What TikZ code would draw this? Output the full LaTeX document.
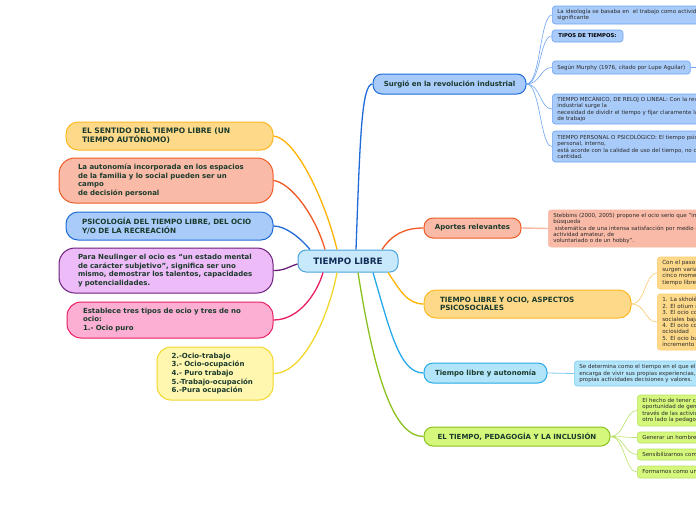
\documentclass[tikz,border=0pt]{standalone}
\usepackage{fontspec}
\setmainfont{DejaVu Sans}
\definecolor{txtgreen}{HTML}{1B3A2C}
\definecolor{txtnavy}{HTML}{132C55}
\definecolor{txtdark}{HTML}{2A2A2A}
\definecolor{cfill}{HTML}{C7E9FB}
\definecolor{cline}{HTML}{4FA3DC}
\definecolor{yfill}{HTML}{FED98A}
\definecolor{yline}{HTML}{FDB923}
\definecolor{ycon}{HTML}{FFB300}
\definecolor{sfill}{HTML}{F9BBA7}
\definecolor{sline}{HTML}{F15A24}
\definecolor{bfill}{HTML}{A8CBFA}
\definecolor{bline}{HTML}{1F6CD9}
\definecolor{lfill}{HTML}{EDBBF7}
\definecolor{lline}{HTML}{6B1E7C}
\definecolor{pfill}{HTML}{FCAFD3}
\definecolor{pline}{HTML}{E91E63}
\definecolor{lyfill}{HTML}{FFF7B0}
\definecolor{lyline}{HTML}{F3D72A}
\definecolor{dfill}{HTML}{B2E4FA}
\definecolor{dline}{HTML}{26A9E8}
\definecolor{gfill}{HTML}{D4F77C}
\definecolor{gline}{HTML}{8BC11F}
\definecolor{subb}{HTML}{6FA5F2}
\definecolor{subs}{HTML}{F8B8A2}
\definecolor{suby}{HTML}{FCCB6E}
\definecolor{subd}{HTML}{7FCDF2}
\definecolor{subg}{HTML}{B9E26A}
\tikzset{
  centernode/.style={draw=cline, fill=cfill, line width=1pt, rounded corners=8pt,
    minimum width=100pt, minimum height=22pt, inner sep=0pt,
    font=\bfseries\fontsize{8.8}{10}\selectfont, text=txtnavy},
  leftnode/.style={line width=1pt, align=left, inner ysep=0pt, text=txtgreen,
    font=\bfseries\fontsize{7.2}{8.6}\selectfont},
  lowfont/.style={font=\bfseries\fontsize{7}{8.6}\selectfont},
  mainnode/.style={line width=1pt, rounded corners=9pt, inner sep=0pt, text=txtgreen,
    minimum height=20pt, font=\bfseries\fontsize{7}{8.6}\selectfont},
  subnode/.style={line width=0.6pt, rounded corners=3pt, align=left, anchor=west,
    inner xsep=5pt, inner ysep=0pt, minimum width=200pt, text width=190pt,
    text=txtdark, font=\fontsize{5.5}{6.2}\selectfont},
  maincon/.style={line width=1.3pt},
  subcon/.style={line width=0.6pt},
}
\begin{document}
\begin{tikzpicture}[x=1pt,y=-1pt]
\path[use as bounding box, clip] (0,0) rectangle (696,520);
\fill[white] (0,0) rectangle (696,520);

% central node
\node[centernode] (tl) at (348,261) {TIEMPO LIBRE};

% left nodes
\node[leftnode, fill=yfill, draw=yline, rounded corners=12pt, minimum height=28pt,
  inner xsep=16pt, text width=175pt, font=\bfseries\fontsize{7.5}{8.8}\selectfont] (l1) at (169.5,136)
  {EL SENTIDO DEL TIEMPO LIBRE (UN\\TIEMPO AUTÓNOMO)};
\node[leftnode, lowfont, fill=sfill, draw=sline, rounded corners=16pt, minimum height=45pt,
  inner xsep=19pt, text width=176pt] (l2) at (166,180.5)
  {La autonomía incorporada en los espacios\\de la familia y lo social pueden ser un\\campo\\de decisión personal};
\node[leftnode, fill=bfill, draw=bline, rounded corners=12pt, minimum height=28pt,
  inner xsep=16pt, text width=175pt] (l3) at (169.5,226)
  {PSICOLOGÍA DEL TIEMPO LIBRE, DEL OCIO\\Y/O DE LA RECREACIÓN};
\node[leftnode, lowfont, fill=lfill, draw=lline, rounded corners=16pt, minimum height=45pt,
  inner xsep=19pt, text width=176pt] (l4) at (166,270.5)
  {Para Neulinger el ocio es “un estado mental\\de carácter subjetivo”, significa ser uno\\mismo, demostrar los talentos, capacidades\\y potencialidades.};
\node[leftnode, lowfont, fill=pfill, draw=pline, rounded corners=14pt, minimum height=36pt,
  inner xsep=16pt, text width=174pt] (l5) at (170,320)
  {Establece tres tipos de ocio y tres de no\\ocio:\\1.- Ocio puro};
\node[leftnode, lowfont, fill=lyfill, draw=lyline, rounded corners=14pt, minimum height=53pt,
  inner xsep=14.5pt, text width=87pt] (l6) at (215,373.5)
  {2.-Ocio-trabajo\\3.- Ocio-ocupación\\4.- Puro trabajo\\5.-Trabajo-ocupación\\6.-Pura ocupación};

% right main nodes
\node[mainnode, fill=bfill, draw=bline, minimum width=153pt] (ra) at (449.5,84)
  {Surgió en la revolución industrial};
\node[mainnode, fill=sfill, draw=sline, minimum width=97pt] (rb) at (472.5,228)
  {Aportes relevantes};
\node[leftnode, fill=yfill, draw=yline, rounded corners=12pt, minimum height=28pt,
  inner xsep=16pt, text width=175pt] (rc) at (527.5,304)
  {TIEMPO LIBRE Y OCIO, ASPECTOS\\PSICOSOCIALES};
\node[mainnode, fill=dfill, draw=dline, minimum width=123pt] (rd) at (485.5,373)
  {Tiempo libre y autonomía};
\node[mainnode, fill=gfill, draw=gline, minimum width=186pt, minimum height=19pt] (re) at (517,436.5)
  {EL TIEMPO, PEDAGOGÍA Y LA INCLUSIÓN};

% sub nodes of ra
\node[subnode, fill=bfill, draw=subb, minimum height=18pt] (a1) at (552,15)
  {La ideología se basaba en \ el trabajo como actividad\\significante};
\node[subnode, fill=bfill, draw=subb, anchor=center, minimum width=71pt, text width=61pt,
  align=center, minimum height=12pt, font=\bfseries\fontsize{5.3}{6.2}\selectfont, text=black] (a2) at (587.5,36)
  {TIPOS DE TIEMPOS:};
\node[subnode, fill=bfill, draw=subb, minimum width=138pt, text width=128pt, minimum height=13pt] (a3) at (552,67.5)
  {Según Murphy (1976, citado por Lupe Aguilar)};
\coordinate (a3x) at (720,67.5);
\node[subnode, fill=bfill, draw=subb, minimum height=30pt, text width=220pt, minimum width=230pt] (a4) at (552,109)
  {TIEMPO MECÁNICO, DE RELOJ O LINEAL: Con la revolución\\industrial surge la\\necesidad de dividir el tiempo y fijar claramente la jornada\\de trabajo};
\node[subnode, fill=bfill, draw=subb, minimum height=31pt, text width=220pt, minimum width=230pt] (a5) at (552,146.5)
  {TIEMPO PERSONAL O PSICOLÓGICO: El tiempo psicológico\\personal, interno,\\está acorde con la calidad de uso del tiempo, no con la\\cantidad.};

% sub node of rb
\node[subnode, fill=sfill, draw=subs, minimum height=37pt, text width=220pt, minimum width=230pt] (b1) at (548,228.5)
  {Stebbins (2000, 2005) propone el ocio serio que "implica la\\búsqueda\\\hspace*{1.6pt}sistemática de una intensa satisfacción por medio de una\\actividad amateur, de\\voluntariado o de un hobby".};

% sub nodes of rc
\node[subnode, fill=yfill, draw=suby, minimum height=32pt, font=\fontsize{5.6}{6.5}\selectfont] (c1) at (657,273)
  {Con el paso del tiempo\\surgen varias concepciones\\cinco momentos del\\tiempo libre};
\node[subnode, fill=yfill, draw=suby, minimum height=56pt, font=\fontsize{5.6}{6.4}\selectfont] (c2) at (657,322)
  {1. La skholé griega\\2. El otium romano\\3. El ocio como privilegio\\sociales bajas\\4. El ocio como\\ociosidad\\5. El ocio burgués\\incremento de};

% sub node of rd
\node[subnode, fill=dfill, draw=subd, minimum height=25pt] (d1) at (574,373.5)
  {Se determina como el tiempo en el que el individuo se\\encarga de vivir sus propias experiencias, sus\\propias actividades decisiones y valores.};

% sub nodes of re
\node[subnode, fill=gfill, draw=subg, minimum height=31pt] (e1) at (637,410.5)
  {El hecho de tener cierta\\oportunidad de generar\\través de las actividades\\otro lado la pedagogía};
\node[subnode, fill=gfill, draw=subg, minimum height=11pt] (e2) at (637,437.5)
  {Generar un hombre};
\node[subnode, fill=gfill, draw=subg, minimum height=11pt] (e3) at (637,454.5)
  {Sensibilizarnos como};
\node[subnode, fill=gfill, draw=subg, minimum height=12pt] (e4) at (637,472)
  {Formarnos como un};

% connectors from centre to left
\draw[maincon, ycon] ([xshift=-11pt]tl.north) .. controls +(-12,-50) and +(22,2) .. (l1.east);
\draw[maincon, sline] ([xshift=-23pt]tl.north) .. controls +(-10,-35) and +(17,2) .. (l2.east);
\draw[maincon, bline] ([xshift=-38pt]tl.north) .. controls +(-10,-12) and +(12,0) .. (l3.east);
\draw[maincon, lline] ([yshift=-3pt]tl.west) .. controls +(-10,3) and +(12,0) .. (l4.east);
\draw[maincon, pline] ([xshift=-25pt]tl.south) .. controls +(-5,18) and +(27,0) .. (l5.east);
\draw[maincon, lyline] ([xshift=-11pt]tl.south) .. controls +(-7,38) and +(32,0) .. (l6.east);

% connectors from centre to right
\draw[maincon, bline] ([xshift=8pt]tl.north) .. controls +(4,-110) and +(-11,0) .. (ra.west);
\draw[maincon, sline] ([xshift=34pt]tl.north) .. controls +(10,-15) and +(-19,0) .. (rb.west);
\draw[maincon, ycon] ([xshift=40pt]tl.south) .. controls +(12,18) and +(-16,0) .. (rc.west);
\draw[maincon, dline] ([xshift=25pt]tl.south) .. controls +(17,58) and +(-24,0) .. (rd.west);
\draw[maincon, gline] ([xshift=10pt]tl.south) .. controls +(17,108) and +(-29,0) .. (re.west);

% sub connectors
\foreach \t in {a1,a2,a3,a4,a5}
  \draw[subcon, subb] (ra.east) .. controls +(14,0) and +(-12,0) .. (\t.west);
\draw[line width=0.8pt, subb] (a3.east) -- (a3x);
\draw[line width=1.4pt, subs] (rb.east) -- (b1.west);
\foreach \t in {c1,c2}
  \draw[subcon, suby] (rc.east) .. controls +(14,0) and +(-12,0) .. (\t.west);
\draw[line width=0.8pt, subd] (rd.east) -- (d1.west);
\foreach \t in {e1,e2,e3,e4}
  \draw[subcon, subg] (re.east) .. controls +(14,0) and +(-12,0) .. (\t.west);
\end{tikzpicture}
\end{document}
